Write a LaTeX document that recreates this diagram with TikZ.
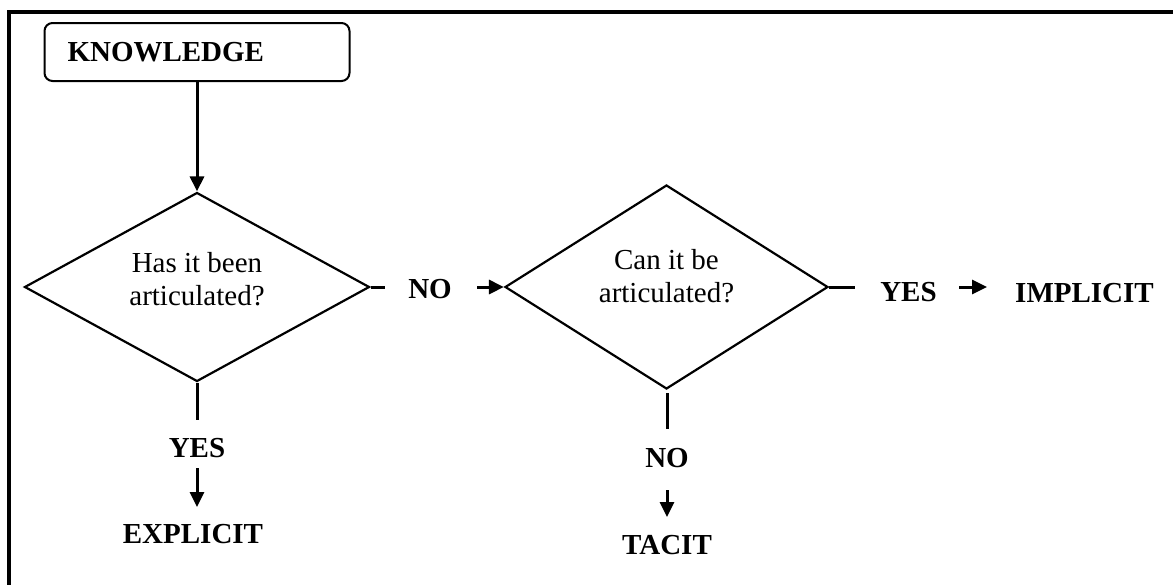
\documentclass[tikz,border=0pt]{standalone}
\usepackage{fontspec}
\setmainfont{Liberation Serif}
\usetikzlibrary{shapes.geometric,arrows.meta}
\begin{document}
\begin{tikzpicture}[x=1pt,y=-1pt,
  every node/.style={font=\fontsize{29}{33}\selectfont},
  lbl/.style={font=\fontsize{29}{33}\selectfont\bfseries, anchor=base, inner sep=0pt},
  dia/.style={diamond, draw, line width=2.2pt, inner sep=0pt, align=center},
  conn/.style={line width=3pt},
  arr/.style={line width=3pt, -{Triangle[length=15pt,width=14pt]}},
  kbox/.style={draw, line width=2pt, rounded corners=8pt, minimum width=305pt, minimum height=58pt, text width=259pt, inner xsep=23pt, align=left, font=\fontsize{29}{33}\selectfont\bfseries}]
\useasboundingbox (0,0) rectangle (1173,584);
\draw[line width=4pt] (8.7,590) -- (8.7,11.5) -- (1180,11.5);

\node[kbox] (know) at (197,52) {KNOWLEDGE};
\node[dia, minimum width=345pt, minimum height=189pt] (d1) at (197,287) {};
\node[anchor=base, align=center, inner sep=0pt] (t1) at (197,305) {Has it been\\articulated?};
\node[dia, minimum width=323pt, minimum height=204pt] (d2) at (666.5,287) {};
\node[anchor=base, align=center, inner sep=0pt] (t2) at (666.5,302) {Can it be\\articulated?};

\node[lbl] (no1) at (430,298) {NO};
\node[lbl] (yes2) at (908.5,301) {YES};
\node[lbl] (impl) at (1084.5,302) {IMPLICIT};
\node[lbl] (yes1) at (197,457) {YES};
\node[lbl] (expl) at (193,543) {EXPLICIT};
\node[lbl] (no2) at (667,467) {NO};
\node[lbl] (tacit) at (667,554) {TACIT};

\coordinate (s1) at (385,287);
\coordinate (a1) at (477,287);
\coordinate (s2) at (855,287);
\coordinate (a2a) at (959,287);
\coordinate (a2b) at (987,287);
\coordinate (s3) at (197,420);
\coordinate (a3a) at (197,468);
\coordinate (a3b) at (197,507);
\coordinate (s4a) at (667,393);
\coordinate (s4b) at (667,429);
\coordinate (a4a) at (667,490);
\coordinate (a4b) at (667,517);

\draw[arr] (know.south) -- (d1.north);
\draw[conn] (d1.east) -- (s1);
\draw[arr] (a1) -- (d2.west);
\draw[conn] (d2.east) -- (s2);
\draw[arr] (a2a) -- (a2b);
\draw[conn] (d1.south) -- (s3);
\draw[arr] (a3a) -- (a3b);
\draw[conn] (s4a) -- (s4b);
\draw[arr] (a4a) -- (a4b);
\end{tikzpicture}
\end{document}
